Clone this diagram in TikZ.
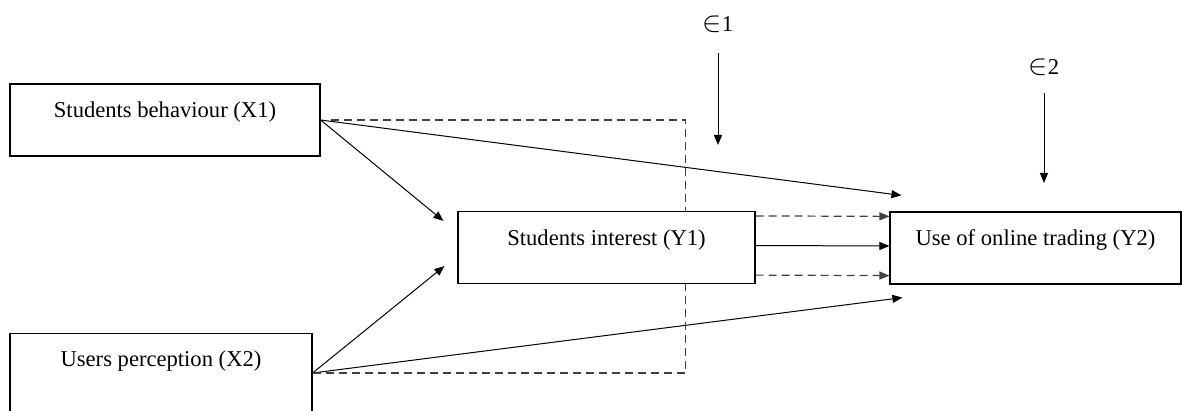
\documentclass[tikz,border=0pt]{standalone}
\usepackage{fontspec}
\setmainfont{Liberation Serif}
\usetikzlibrary{arrows.meta,calc}

\begin{document}
\begin{tikzpicture}[x=0.5pt, y=-0.5pt,
    box/.style={draw, line width=0.6pt, inner sep=0pt, text height=16.75pt, text depth=19.25pt, font=\fontsize{11.3}{13.5}\selectfont},
    arr/.style={-{Triangle[length=5pt,width=4pt]}, line width=0.5pt},
    dashline/.style={dash pattern=on 4pt off 2.5pt, black!75, line width=0.6pt},
    errlabel/.style={font=\fontsize{11.3}{13.5}\selectfont}]
    \useasboundingbox (0,0) rectangle (1182,411);

    % Independent variables
    \node[box, minimum width=155pt] (X1) at (165,120) {Students behaviour (X1)};
    \node[box, minimum width=151pt, text depth=23pt] (X2) at (161,373) {Users perception (X2)};

    % Dependent variables
    \node[box, minimum width=148.5pt] (Y1) at (606.5,247.5) {Students interest (Y1)};
    \node[box, minimum width=145.5pt] (Y2) at (1035.5,248) {Use of online trading (Y2)};

    % Error terms
    \node[errlabel] (e1) at (718,24) {{\fontsize{14}{16}\selectfont$\in$}1};
    \node[errlabel] (e2) at (1044,67) {{\fontsize{14}{16}\selectfont$\in$}2};
    \coordinate (e1end) at (718,145);
    \coordinate (e2end) at (1044,183);
    \draw[arr, shorten <=7pt] (e1) -- (e1end);
    \draw[arr, shorten <=5.5pt] (e2) -- (e2end);

    % Arrow ends near the boxes
    \coordinate (in11) at ($(Y1.north west)+(-14,10)$);
    \coordinate (in21) at ($(Y1.south west)+(-13,-18)$);
    \coordinate (in12) at ($(Y2.north west)+(12,-16)$);
    \coordinate (in22) at ($(Y2.south west)+(13,13)$);
    \coordinate (dtop) at ($(Y1.north east)+(-70,0)$);
    \coordinate (dbot) at ($(Y1.south east)+(-70,0)$);

    % Direct paths
    \draw[arr] (X1.east) -- (in11);
    \draw[arr] (X2.east) -- (in21);
    \draw[arr] (X1.east) -- (in12);
    \draw[arr] (X2.east) -- (in22);

    % Indirect paths through Y1
    \draw[dashline, shorten <=5pt] (X1.east) -| (dtop);
    \draw[dashline] (X2.east) -| (dbot);
    \draw[arr, dashline] ([yshift=-2.5pt]Y1.north east) -- ([yshift=-2.5pt]Y2.north west);
    \draw[arr] ([yshift=1pt]Y1.east) -- ([yshift=1pt]Y2.west);
    \draw[arr, dashline] ([yshift=4.5pt]Y1.south east) -- ([yshift=4.5pt]Y2.south west);
\end{tikzpicture}
\end{document}
